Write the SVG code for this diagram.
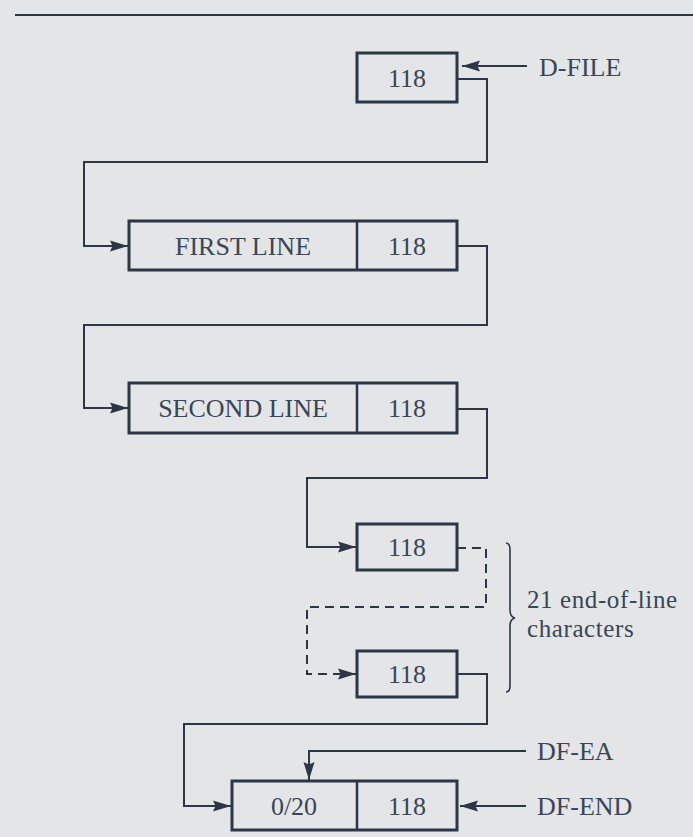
<svg xmlns="http://www.w3.org/2000/svg" width="693" height="837" viewBox="0 0 693 837">
<style>
.bg{fill:#e3e5e7}
.box{fill:none;stroke:#2c3646;stroke-width:3}
.div{stroke:#2c3646;stroke-width:2.5}
.c{fill:none;stroke:#2c3646;stroke-width:2}
.dash{stroke-dasharray:9 6}
.t{font-family:"Liberation Serif","Times New Roman",serif;font-size:26px;fill:#3a4556;text-anchor:middle}
.l{font-family:"Liberation Serif","Times New Roman",serif;font-size:26px;fill:#3a4556}
.a{font-family:"Liberation Serif","Times New Roman",serif;font-size:25px;fill:#3a4556;letter-spacing:0.6px}
</style>
<defs>
<marker id="ah" markerUnits="userSpaceOnUse" markerWidth="20" markerHeight="14" refX="18" refY="7" orient="auto">
<path d="M0,1.5 L18,7 L0,12.5 L2.5,7 Z" fill="#2c3646"/>
</marker>
</defs>
<rect class="bg" x="0" y="0" width="693" height="837"/>
<line x1="15" y1="15" x2="693" y2="15" stroke="#2c3646" stroke-width="2"/>

<g id="connectors">
<path class="c" d="M527,66 H462" marker-end="url(#ah)"/>
<path class="c" d="M457,79 H487 V162 H84 V246 H128" marker-end="url(#ah)"/>
<path class="c" d="M457,246 H487 V325 H84 V408 H128" marker-end="url(#ah)"/>
<path class="c" d="M457,409 H487 V478 H307 V547 H356" marker-end="url(#ah)"/>
<path class="c dash" d="M457,548 H486 V607 H307 V674 H356" marker-end="url(#ah)"/>
<path class="c" d="M457,674 H487 V724 H184 V806 H231" marker-end="url(#ah)"/>
<path class="c" d="M526,751 H309 V780" marker-end="url(#ah)"/>
<path class="c" d="M526,806 H460" marker-end="url(#ah)"/>
</g>

<g id="d-file-box">
<rect class="box" x="357" y="53" width="100" height="49"/>
<text class="t" x="407" y="87">118</text>
</g>
<g id="first-line">
<rect class="box" x="129" y="221" width="328" height="49"/>
<line class="div" x1="357" y1="221" x2="357" y2="270"/>
<text class="t" x="243" y="255">FIRST LINE</text>
<text class="t" x="407" y="255">118</text>
</g>
<g id="second-line">
<rect class="box" x="129" y="383" width="328" height="50"/>
<line class="div" x1="357" y1="383" x2="357" y2="433"/>
<text class="t" x="243" y="417">SECOND LINE</text>
<text class="t" x="407" y="417">118</text>
</g>
<g id="eol-1">
<rect class="box" x="357" y="524" width="100" height="46"/>
<text class="t" x="407" y="556">118</text>
</g>
<g id="eol-21">
<rect class="box" x="357" y="651" width="100" height="46"/>
<text class="t" x="407" y="683">118</text>
</g>
<g id="end-box">
<rect class="box" x="232" y="781" width="225" height="49"/>
<line class="div" x1="357" y1="781" x2="357" y2="830"/>
<text class="t" x="294" y="815">0/20</text>
<text class="t" x="407" y="815">118</text>
</g>

<g id="brace">
<path class="c" style="stroke-width:1.6" d="M506,543 Q510,543 510,550 V610 Q510,617 515,618 Q510,619 510,626 V686 Q510,692 506,692"/>
<text class="a" x="527" y="608">21 end-of-line</text>
<text class="a" x="527" y="637">characters</text>
</g>

<g id="labels">
<text class="l" x="539" y="76">D-FILE</text>
<text class="l" x="537" y="760">DF-EA</text>
<text class="l" x="537" y="815">DF-END</text>
</g>
</svg>
